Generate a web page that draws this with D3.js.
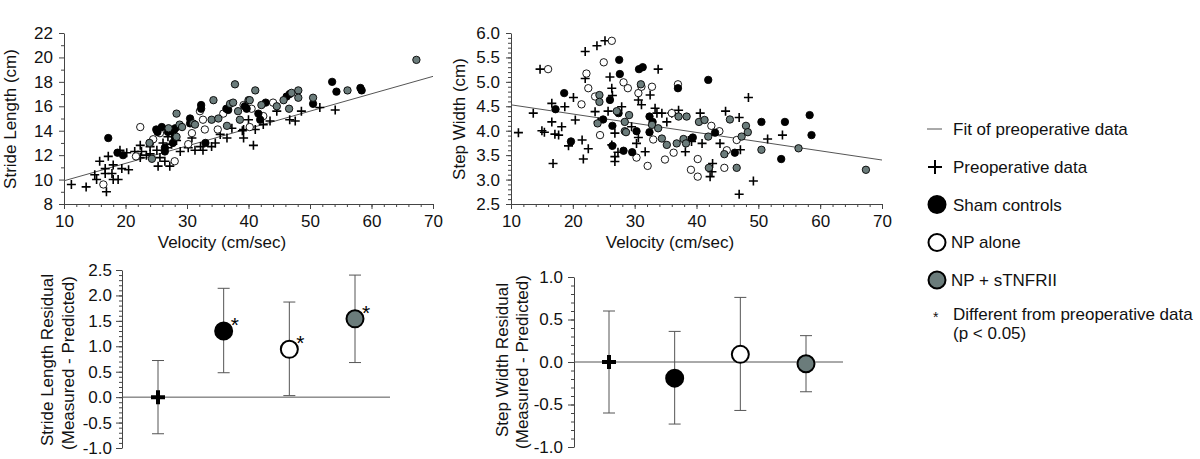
<!DOCTYPE html>
<html><head><meta charset="utf-8">
<script src="https://cdn.jsdelivr.net/npm/d3@7"></script>
<style>body{margin:0;background:#fff}svg{display:block;font-family:"Liberation Sans",Arial,Helvetica,sans-serif}</style>
</head><body><svg id="c" width="1200" height="459"></svg>
<script>
// ---------- DATA ----------
// Stride length (cm) vs velocity (cm/sec)
const strideCross = [[11.2,9.6],[13.6,9.4],[15.0,10.4],[15.8,11.5],[15.3,10.0],[16.9,9.0],[16.7,10.9],[16.7,10.5],[17.2,11.9],[18.0,11.2],[17.8,10.5],[18.0,10.0],[18.8,10.0],[19.1,12.4],[19.4,10.9],[20.5,10.8],[20.2,12.2],[21.5,12.3],[22.4,12.8],[22.6,12.3],[22.4,11.8],[23.4,12.0],[24.0,12.7],[24.0,12.1],[25.1,12.4],[25.3,11.1],[25.6,11.8],[26.1,13.0],[26.7,12.6],[26.4,11.5],[27.2,11.1],[26.9,13.5],[27.5,12.9],[28.3,13.2],[28.9,12.3],[30.2,12.6],[30.8,13.4],[31.3,12.4],[32.2,12.7],[32.6,12.4],[34.0,12.7],[34.6,13.0],[35.4,13.7],[36.5,13.4],[37.3,14.2],[39.2,13.4],[39.0,14.0],[39.2,14.1],[40.0,14.9],[40.8,12.8],[41.1,14.1],[42.4,14.5],[43.5,14.8],[44.6,15.6],[46.7,14.9],[47.6,14.8],[48.6,15.6],[51.6,15.9],[54.1,15.7]];
const strideSham = [[17.2,13.4],[18.7,12.2],[19.6,12.0],[25.0,14.1],[25.2,13.9],[25.9,14.3],[26.9,13.9],[27.8,13.9],[28.0,13.5],[27.7,13.0],[26.4,12.3],[26.4,12.6],[28.1,14.2],[30.5,15.0],[30.5,14.6],[32.3,16.1],[32.3,15.8],[33.0,13.0],[36.4,15.8],[36.7,15.7],[39.4,16.0],[39.7,15.8],[41.6,15.4],[41.9,14.9],[42.8,16.3],[46.2,16.8],[46.7,17.0],[50.5,16.2],[53.6,18.0],[54.3,17.2],[58.2,17.5],[58.4,17.3]];
const strideNP = [[22.4,14.3],[16.4,9.6],[21.7,11.9],[24.0,13.0],[24.5,13.3],[25.6,13.8],[28.0,11.5],[30.2,12.9],[30.8,13.8],[32.1,15.6],[32.6,14.9],[32.9,14.1],[35.0,14.1],[35.9,15.4],[39.2,16.1],[40.5,15.8],[42.4,15.2],[44.0,16.3],[40.2,14.3]];
const strideTNF = [[23.9,13.0],[24.3,11.7],[27.0,14.2],[28.3,15.4],[28.8,14.5],[29.2,14.3],[28.3,13.5],[31.0,14.6],[31.3,14.5],[34.3,16.5],[34.0,14.9],[35.1,15.0],[36.5,14.4],[37.0,16.2],[37.5,16.3],[38.6,14.9],[38.3,15.6],[40.0,16.5],[37.8,17.8],[41.1,17.3],[40.2,16.5],[42.1,16.1],[45.7,16.5],[47.0,17.1],[48.1,17.3],[48.1,16.7],[44.6,16.0],[46.6,15.8],[50.5,16.7],[56.1,17.3],[67.3,19.8]];
const strideFit = [[10,9.9],[70,18.45]];

// Step width (cm) vs velocity (cm/sec)
const widthCross = [[11.2,3.96],[13.6,4.36],[14.7,5.26],[15.4,3.97],[15.0,4.0],[16.6,4.18],[16.6,4.56],[17.1,3.93],[16.8,3.33],[18.2,4.08],[17.7,3.91],[18.7,4.49],[19.3,3.69],[20.1,4.68],[20.4,4.22],[21.5,3.81],[21.7,3.42],[22.5,3.63],[22.0,5.62],[22.0,5.07],[23.9,5.74],[25.2,5.84],[23.6,4.39],[24.1,4.18],[25.7,4.40],[26.3,4.87],[26.4,4.72],[26.0,5.10],[27.9,4.49],[26.8,3.95],[26.3,3.71],[26.8,3.47],[26.8,3.37],[27.3,3.56],[29.5,4.08],[30.6,3.86],[30.3,3.74],[30.6,4.63],[31.1,4.53],[31.7,3.57],[32.5,4.73],[33.3,4.46],[33.6,4.36],[34.4,4.36],[35.2,4.18],[33.8,5.26],[36.0,4.36],[37.1,4.42],[38.2,3.57],[38.7,3.80],[39.2,3.78],[40.6,4.36],[40.9,3.74],[42.2,3.06],[42.5,3.16],[42.6,3.33],[43.8,3.74],[44.7,4.40],[46.9,4.27],[46.9,2.70],[47.1,3.61],[48.4,4.68],[49.2,2.97],[51.5,3.83],[53.9,3.91]];
const widthSham = [[17.2,4.44],[18.6,4.77],[19.7,3.78],[24.9,4.23],[26.0,4.63],[26.4,4.10],[26.4,3.69],[27.4,4.36],[27.5,5.45],[27.6,5.16],[28.2,3.59],[29.6,3.56],[30.3,3.99],[30.7,5.26],[31.3,5.30],[32.4,3.97],[32.4,4.29],[32.9,4.18],[37.0,4.87],[39.4,3.86],[41.9,5.04],[43.0,3.96],[46.2,3.55],[50.5,4.18],[53.7,3.42],[54.3,4.18],[58.3,4.32],[58.6,3.91]];
const widthNP = [[16.0,5.26],[21.4,4.54],[22.2,5.17],[22.5,4.87],[23.6,4.70],[24.4,3.91],[25.0,5.40],[26.3,5.84],[28.2,4.99],[28.9,4.87],[30.3,3.45],[30.6,4.77],[31.1,4.90],[32.1,3.28],[32.8,4.90],[33.0,3.82],[34.9,3.41],[36.0,4.36],[36.3,3.55],[37.0,4.95],[39.1,3.20],[40.2,3.42],[40.2,3.06],[42.4,4.10],[43.7,3.99],[44.5,3.24],[44.9,3.60],[46.5,3.81]];
const widthTNF = [[24.0,4.15],[24.3,4.73],[24.3,4.59],[27.1,4.40],[28.4,4.18],[28.4,3.99],[28.6,3.97],[29.1,4.32],[31.0,4.95],[32.8,4.12],[33.8,4.05],[34.4,3.84],[35.2,3.71],[36.8,3.74],[37.1,4.29],[37.9,3.83],[38.3,3.74],[38.4,4.29],[40.4,4.18],[41.3,4.22],[41.9,3.88],[42.0,3.24],[44.5,3.52],[45.4,4.23],[46.5,3.24],[47.3,3.88],[48.0,4.10],[48.3,3.97],[50.5,3.61],[56.5,3.64],[67.4,3.20]];
const widthFit = [[10,4.53],[70,3.40]];

// Residuals
const groups = ["Preoperative data","Sham controls","NP alone","NP + sTNFRII"];
const strideResMean = [0, 1.30, 0.94, 1.54];
const strideResLow  = [-0.72, 0.48, 0.03, 0.68];
const strideResHigh = [0.72, 2.14, 1.87, 2.40];
const strideSig     = [false, true, true, true];
const widthResMean  = [0, -0.19, 0.09, -0.02];
const widthResLow   = [-0.60, -0.73, -0.57, -0.35];
const widthResHigh  = [0.60, 0.36, 0.76, 0.31];

// Tick labels
const velTicks = [10,20,30,40,50,60,70];
const strideTicks = [8,10,12,14,16,18,20,22];
const widthTicks = ["2.5","3.0","3.5","4.0","4.5","5.0","5.5","6.0"];
const strideResTicks = ["-1.0","-0.5","0.0","0.5","1.0","1.5","2.0","2.5"];
const widthResTicks = ["-1.0","-0.5","0.0","0.5","1.0"];

const legendLabels = ["Fit of preoperative data","Preoperative data","Sham controls","NP alone","NP + sTNFRII"];
const legendNote = ["Different from preoperative data","(p < 0.05)"];

// ---------- DRAW ----------
const GRAY = "#6b7c7b", AX = "#444", FS = 17;
const svg = d3.select("#c");

function axis(g, scale, orient, majors, labels, minors, size, pad) {
  const mk = orient === "left" ? d3.axisLeft : d3.axisBottom;
  g.call(mk(scale).tickValues(majors).tickFormat((d,i)=>labels[i]).tickSize(size).tickSizeOuter(0).tickPadding(pad));
  g.append("g").call(mk(scale).tickValues(minors).tickFormat("").tickSize(3).tickSizeOuter(0)).select(".domain").remove();
  g.attr("font-family", null).attr("font-size", null);
  g.selectAll("path,line").attr("stroke", AX).attr("stroke-width", 1);
  g.selectAll("text").attr("font-size", FS).attr("fill", "#111");
}
const rng = (a, b, s) => d3.range(Math.round((b - a) / s) + 1).map(i => +(a + i * s).toFixed(3));

function rotLabel(x, y, txt) {
  svg.append("text").attr("transform", `translate(${x},${y}) rotate(-90)`).attr("text-anchor", "middle")
    .attr("font-size", FS).attr("fill", "#111").text(txt);
}
function cross(g, x, y, a, w) {
  g.append("path").attr("d", `M${x - a},${y}H${x + a}M${x},${y - a}V${y + a}`).attr("stroke", "#000").attr("stroke-width", w).attr("fill", "none");
}

function scatter(xs, ys, crosses, sham, np, tnf, fit) {
  const g = svg.append("g");
  const line = d3.line().x(d => xs(d[0])).y(d => ys(d[1]));
  g.append("path").attr("d", line(fit)).attr("stroke", "#555").attr("stroke-width", 1).attr("fill", "none");
  crosses.forEach(d => cross(g, xs(d[0]), ys(d[1]), 4.5, 1.6));
  const circ = (data, fill) => g.selectAll(null).data(data).enter().append("circle")
    .attr("cx", d => xs(d[0])).attr("cy", d => ys(d[1])).attr("r", 3.7)
    .attr("fill", fill).attr("stroke", "#000").attr("stroke-width", 0.9);
  circ(np, "#fff"); circ(sham, "#000"); circ(tnf, GRAY);
}

// Top-left
const tlX = d3.scaleLinear([10, 70], [64, 433]);
const tlY = d3.scaleLinear([8, 22], [204, 33]);
axis(svg.append("g").attr("transform", "translate(64,0)"), tlY, "left", strideTicks, strideTicks.map(String), rng(9, 21, 2), 5, 6);
axis(svg.append("g").attr("transform", "translate(0,204)"), tlX, "bottom", velTicks, velTicks.map(String), rng(12, 68, 2), 5, 6);
scatter(tlX, tlY, strideCross, strideSham, strideNP, strideTNF, strideFit);
rotLabel(16, 119, "Stride Length (cm)");
svg.append("text").attr("x", 222).attr("y", 248).attr("text-anchor", "middle").attr("font-size", FS).attr("fill", "#111").text("Velocity (cm/sec)");

// Top-right
const trX = d3.scaleLinear([10, 70], [511, 882]);
const trY = d3.scaleLinear([2.5, 6.0], [204, 33]);
axis(svg.append("g").attr("transform", "translate(511,0)"), trY, "left", widthTicks.map(Number), widthTicks, rng(2.6, 5.9, 0.1), 5, 6);
axis(svg.append("g").attr("transform", "translate(0,204)"), trX, "bottom", velTicks, velTicks.map(String), rng(12, 68, 2), 5, 6);
scatter(trX, trY, widthCross, widthSham, widthNP, widthTNF, widthFit);
rotLabel(465, 119, "Step Width (cm)");
svg.append("text").attr("x", 670).attr("y", 248).attr("text-anchor", "middle").attr("font-size", FS).attr("fill", "#111").text("Velocity (cm/sec)");

// Residual panels
function residual(xs, ys, axisX, zeroEnd, mean, lo, hi, sig) {
  const g = svg.append("g");
  g.append("line").attr("x1", axisX).attr("x2", zeroEnd).attr("y1", ys(0)).attr("y2", ys(0)).attr("stroke", "#555").attr("stroke-width", 1);
  groups.forEach((k, i) => {
    const x = xs(k);
    g.append("line").attr("x1", x).attr("x2", x).attr("y1", ys(lo[i])).attr("y2", ys(hi[i])).attr("stroke", "#555").attr("stroke-width", 1);
    [lo[i], hi[i]].forEach(v => g.append("line").attr("x1", x - 6).attr("x2", x + 6).attr("y1", ys(v)).attr("y2", ys(v)).attr("stroke", "#555").attr("stroke-width", 1));
    const y = ys(mean[i]);
    if (i === 0) cross(g, x, y, 7, 4);
    else g.append("circle").attr("cx", x).attr("cy", y).attr("r", 8.5)
      .attr("fill", i === 1 ? "#000" : i === 2 ? "#fff" : GRAY).attr("stroke", "#000").attr("stroke-width", 2);
    if (sig && sig[i]) g.append("text").attr("x", x + 7).attr("y", y + 1).attr("font-size", 21).attr("fill", "#000").text("*");
  });
}
const blY = d3.scaleLinear([-1, 2.5], [448, 270]);
const blX = d3.scalePoint(groups, [158, 355]);
axis(svg.append("g").attr("transform", "translate(122,0)"), blY, "left", strideResTicks.map(Number), strideResTicks, rng(-0.9, 2.4, 0.1), 6, 4);
residual(blX, blY, 122, 390, strideResMean, strideResLow, strideResHigh, strideSig);
rotLabel(53, 360, "Stride Length Residual");
rotLabel(74, 363, "(Measured - Predicted)");

const brY = d3.scaleLinear([-1, 1], [447, 277]);
const brX = d3.scalePoint(groups, [609, 806]);
axis(svg.append("g").attr("transform", "translate(574,0)"), brY, "left", widthResTicks.map(Number), widthResTicks, rng(-0.9, 0.9, 0.1), 6, 5);
residual(brX, brY, 574, 843, widthResMean, widthResLow, widthResHigh, null);
rotLabel(508, 360, "Step Width Residual");
rotLabel(528, 362, "(Measured - Predicted)");

// Legend
const lg = svg.append("g");
const ly = [135, 173, 211, 248, 286];
lg.append("line").attr("x1", 927).attr("x2", 942).attr("y1", 129).attr("y2", 129).attr("stroke", "#555").attr("stroke-width", 1);
cross(lg, 935, 167, 7, 2);
[["#000", 204.5], ["#fff", 242.5], [GRAY, 280]].forEach(([f, y]) =>
  lg.append("circle").attr("cx", 937).attr("cy", y).attr("r", 8.5).attr("fill", f).attr("stroke", "#000").attr("stroke-width", 2));
legendLabels.forEach((t, i) => lg.append("text").attr("x", i === 3 || i === 4 ? 951 : 953).attr("y", ly[i]).attr("font-size", FS).attr("fill", "#111").text(t));
lg.append("text").attr("x", 933).attr("y", 322).attr("font-size", 14).attr("fill", "#111").text("*");
lg.append("text").attr("x", 953).attr("y", 320).attr("font-size", FS).attr("fill", "#111").text(legendNote[0]);
lg.append("text").attr("x", 953).attr("y", 339).attr("font-size", FS).attr("fill", "#111").text(legendNote[1]);
</script></body></html>
